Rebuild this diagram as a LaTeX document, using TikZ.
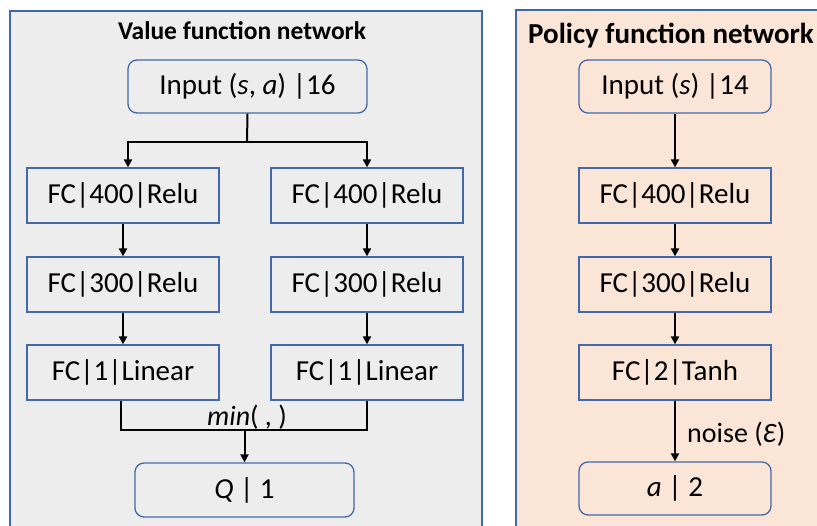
\documentclass[tikz,border=0pt]{standalone}
\usepackage{fontspec}
\setmainfont{Carlito}
\usetikzlibrary{arrows.meta,calc}
\definecolor{bord}{RGB}{65,105,170}
\definecolor{graybg}{RGB}{237,237,237}
\definecolor{peach}{RGB}{251,229,214}
\begin{document}
\begin{tikzpicture}[x=1pt,y=-1pt,
  panel/.style={draw=bord,line width=1.3pt},
  box/.style={draw=bord,line width=1.3pt,inner sep=0pt,minimum width=192pt,minimum height=55pt,font=\fontsize{29}{32}\selectfont},
  rbox/.style={box,rounded corners=9pt,minimum height=53pt},
  link/.style={line width=2pt,black},
  arr/.style={link,-{Triangle[length=8pt,width=8pt]}},
  lbl/.style={font=\fontsize{28}{31}\selectfont,inner sep=0pt}]
\clip (0,0) rectangle (817,526);
% panels
\draw[panel,fill=graybg] (10,11) rectangle (482,560);
\draw[panel,fill=peach] (516,10) rectangle (840,560);
\node[font=\bfseries\fontsize{25.5}{29}\selectfont,inner sep=0pt,anchor=base] (vt) at (242,40) {Value function network};
\node[font=\bfseries\fontsize{29}{33}\selectfont,inner sep=0pt,anchor=base] (pt) at (671,44) {Policy function network};
% value network
\node[rbox,minimum width=239pt] (vin) at (247.5,86.5) {Input (\textit{s}, \textit{a}) |16};
\node[box] (l1) at (123,195.5) {FC|400|Relu};
\node[box] (r1) at (367,195.5) {FC|400|Relu};
\node[box] (l2) at (123,284.5) {FC|300|Relu};
\node[box] (r2) at (367,284.5) {FC|300|Relu};
\node[box] (l3) at (123,372.5) {FC|1|Linear};
\node[box] (r3) at (367,372.5) {FC|1|Linear};
\node[rbox,minimum width=219pt,minimum height=54pt] (q) at (244.5,490) {\textit{Q} | 1};
\coordinate (br) at (247,142);
\draw[link] (vin.south) -- (br);
\draw[arr] (br) -| ([xshift=5pt]l1.north);
\draw[arr] (br) -| (r1.north);
\draw[arr] (l1) -- (l2);
\draw[arr] (r1) -- (r2);
\draw[arr] (l2) -- (l3);
\draw[arr] (r2) -- (r3);
\coordinate (m) at (q.north |- 0,430);
\draw[link] ([xshift=-2pt]l3.south) |- (m) -| (r3.south);
\draw[arr] (m) -- (q.north);
\node[lbl] (mn) at (247,417) {\textit{min}( , )};
% policy network
\node[rbox] (pin) at (675,86.5) {Input (\textit{s}) |14};
\node[box] (p1) at (675,195.5) {FC|400|Relu};
\node[box] (p2) at (675,284.5) {FC|300|Relu};
\node[box] (p3) at (675,372.5) {FC|2|Tanh};
\node[rbox] (pa) at (675,488.5) {\textit{a} | 2};
\draw[arr] (pin) -- (p1);
\draw[arr] (p1) -- (p2);
\draw[arr] (p2) -- (p3);
\draw[arr] (p3) -- (pa);
\node[lbl,anchor=west] (nz) at (687,434) {noise (\textit{Ɛ})};
\end{tikzpicture}
\end{document}
